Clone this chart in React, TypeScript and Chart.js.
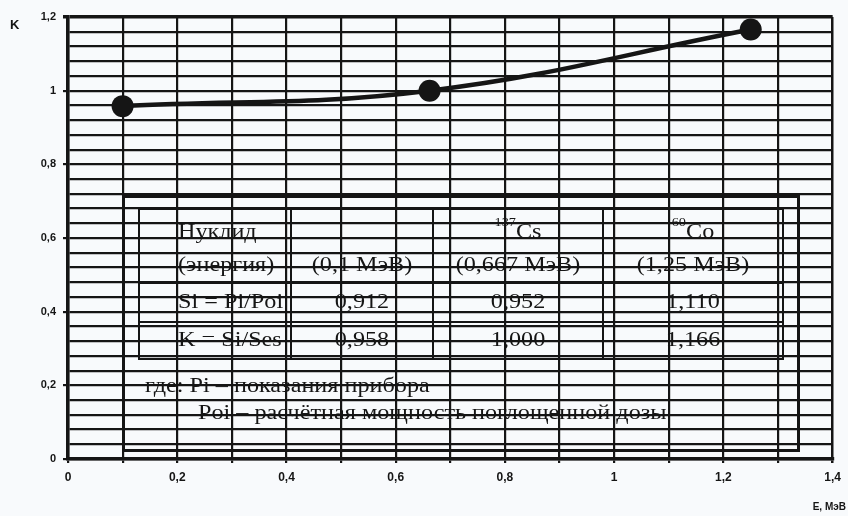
import React, { useEffect, useRef } from 'react';
import { Chart, registerables } from 'chart.js';

Chart.register(...registerables);

// ---- data ----
const energies = [0.1, 0.662, 1.25];
const kValues = [0.958, 1.0, 1.166];
const siValues = [0.912, 0.952, 1.11];
const nuclideMass = ['', '137', '60'];
const nuclideSymbol = ['', 'Cs', 'Co'];
const energyLabels = ['0,1', '0,667', '1,25'];
const rowTitles = ['Нуклид', '(энергия)', 'Si = Pi/Poi', 'K = Si/Ses'];
const footnotes = ['где: Pi – показания прибора', 'Poi – расчётная мощность поглощенной дозы'];
const yAxisTitle = 'K';
const xAxisTitle = 'E, МэВ';
const xRange = [0, 1.4];
const yRange = [0, 1.2];
const xGridStep = 0.1;
const yGridStep = 0.04;
const labelStep = 0.2;

const INK = '#151515';
const BG = '#f8fafc';
const SERIF = '"Liberation Serif", "Times New Roman", serif';
const SANS = '"Liberation Sans", Arial, sans-serif';

const fmtLabel = (v: number) => {
  const r = Math.round(v * 1000) / 1000;
  const q = r / labelStep;
  if (Math.abs(q - Math.round(q)) > 1e-6) return '';
  return String(Math.round(r * 10) / 10).replace('.', ',');
};
const fmt3 = (v: number) => v.toFixed(3).replace('.', ',');

// layout of the overlaid table (styling only)
const COLS = [139, 291, 433, 603, 783];
const ROW_BASE = [238, 271, 308, 346];
const CELL_FONT = 22;
const STRETCH = 1.1;

function Txt(props: { left: number; width?: number; baseline: number; align?: any; size: number; family: string; bold?: boolean; stretch?: number; children: any }) {
  const { left, width, baseline, align, size, family, bold, stretch, children } = props;
  const asc = family === SERIF ? 0.8375 : 0.8465;
  const a = align || 'left';
  return (
    <div
      style={{
        position: 'absolute',
        left,
        width,
        top: baseline - asc * size,
        fontSize: size,
        lineHeight: 1,
        fontFamily: family,
        fontWeight: bold ? 'bold' : 'normal',
        textAlign: a,
        whiteSpace: 'nowrap',
        color: INK,
        transform: stretch ? `scaleX(${stretch})` : undefined,
        transformOrigin: a === 'center' ? 'center' : a === 'right' ? 'right' : 'left',
      }}
    >
      {children}
    </div>
  );
}

export default function App() {
  const ref = useRef<HTMLCanvasElement | null>(null);

  useEffect(() => {
    document.body.style.margin = '0';
    const canvas = ref.current;
    if (!canvas) return;
    const chart = new Chart(canvas, {
      type: 'line',
      data: {
        datasets: [
          {
            data: energies.map((x, i) => ({ x, y: kValues[i] })),
            borderColor: INK,
            borderWidth: 4.5,
            tension: 0.4,
            pointRadius: 11,
            pointHoverRadius: 11,
            pointBackgroundColor: INK,
            pointBorderWidth: 0,
            fill: false,
          },
        ],
      },
      options: {
        animation: false,
        responsive: false,
        events: [],
        layout: { padding: { top: 17, right: 13, left: 0, bottom: 0 } },
        plugins: { legend: { display: false }, tooltip: { enabled: false } },
        scales: {
          x: {
            type: 'linear',
            min: xRange[0],
            max: xRange[1],
            ticks: {
              stepSize: xGridStep,
              autoSkip: false,
              maxRotation: 0,
              padding: 7,
              color: INK,
              font: { family: SANS, size: 12, weight: 'bold' },
              callback: (v: any) => fmtLabel(Number(v)),
            },
            grid: {
              color: INK,
              lineWidth: (c: any) => (c.tick && c.tick.value >= 1.399 ? 2.5 : 2.2),
              tickLength: 4,
              tickColor: INK,
            },
            border: { color: INK, width: 3.5 },
            afterFit: (s: any) => {
              s.height = 57;
            },
          },
          y: {
            type: 'linear',
            min: yRange[0],
            max: yRange[1],
            ticks: {
              stepSize: yGridStep,
              autoSkip: false,
              padding: 7,
              color: INK,
              font: { family: SANS, size: 11, weight: 'bold' },
              callback: (v: any) => fmtLabel(Number(v)),
            },
            grid: {
              color: INK,
              lineWidth: (c: any) => (c.tick && c.tick.value >= 1.199 ? 3.5 : 2.2),
              tickLength: 5,
              tickColor: (c: any) => (c.tick && fmtLabel(c.tick.value) !== '' ? INK : 'rgba(0,0,0,0)'),
            },
            border: { color: INK, width: 3.5 },
            afterFit: (s: any) => {
              s.width = 68;
            },
          },
        },
      },
    } as any);
    return () => chart.destroy();
  }, []);

  const colCenter = (i: number) => ({ left: COLS[i], width: COLS[i + 1] - COLS[i] });

  return (
    <div style={{ position: 'relative', width: 848, height: 516, background: BG, overflow: 'hidden' }}>
      <canvas ref={ref} width={848} height={516} style={{ position: 'absolute', left: 0, top: 0 }} />

      {/* outer frame */}
      <div style={{ position: 'absolute', left: 122, top: 195, width: 678, height: 257, border: `3px solid ${INK}`, boxSizing: 'border-box' }} />
      {/* table frame */}
      <div style={{ position: 'absolute', left: 138, top: 208, width: 646, height: 152, border: `2px solid ${INK}`, boxSizing: 'border-box' }} />
      {COLS.slice(1, 4).map((x, i) => (
        <div key={'c' + i} style={{ position: 'absolute', left: x - 1, top: 208, width: 2, height: 152, background: INK }} />
      ))}
      <div style={{ position: 'absolute', left: 138, top: 282, width: 646, height: 1.5, background: INK }} />
      <div style={{ position: 'absolute', left: 138, top: 321, width: 646, height: 1.5, background: INK }} />

      {rowTitles.map((t, r) => (
        <Txt key={'rt' + r} left={178} baseline={ROW_BASE[r]} size={CELL_FONT} family={SERIF} stretch={STRETCH}>
          {t}
        </Txt>
      ))}
      {energies.map((_, i) => (
        <React.Fragment key={'col' + i}>
          <Txt {...colCenter(i + 1)} align="center" baseline={ROW_BASE[0]} size={CELL_FONT} family={SERIF} stretch={STRETCH}>
            {nuclideMass[i] ? (
              <>
                <span style={{ fontSize: 13, position: 'relative', top: -12 }}>{nuclideMass[i]}</span>
                {nuclideSymbol[i]}
              </>
            ) : null}
          </Txt>
          <Txt {...colCenter(i + 1)} align="center" baseline={ROW_BASE[1]} size={CELL_FONT} family={SERIF} stretch={STRETCH}>
            {'(' + energyLabels[i] + ' МэВ)'}
          </Txt>
          <Txt {...colCenter(i + 1)} align="center" baseline={ROW_BASE[2]} size={CELL_FONT} family={SERIF} stretch={STRETCH}>
            {fmt3(siValues[i])}
          </Txt>
          <Txt {...colCenter(i + 1)} align="center" baseline={ROW_BASE[3]} size={CELL_FONT} family={SERIF} stretch={STRETCH}>
            {fmt3(kValues[i])}
          </Txt>
        </React.Fragment>
      ))}

      <Txt left={145} baseline={392} size={CELL_FONT} family={SERIF} stretch={STRETCH}>
        {footnotes[0]}
      </Txt>
      <Txt left={198} baseline={419} size={CELL_FONT} family={SERIF} stretch={STRETCH}>
        {footnotes[1]}
      </Txt>

      <Txt left={10} baseline={29.5} size={13} family={SANS} bold>
        {yAxisTitle}
      </Txt>
      <Txt left={746} width={100} align="right" baseline={510} size={10} family={SANS} bold>
        {xAxisTitle}
      </Txt>
    </div>
  );
}
